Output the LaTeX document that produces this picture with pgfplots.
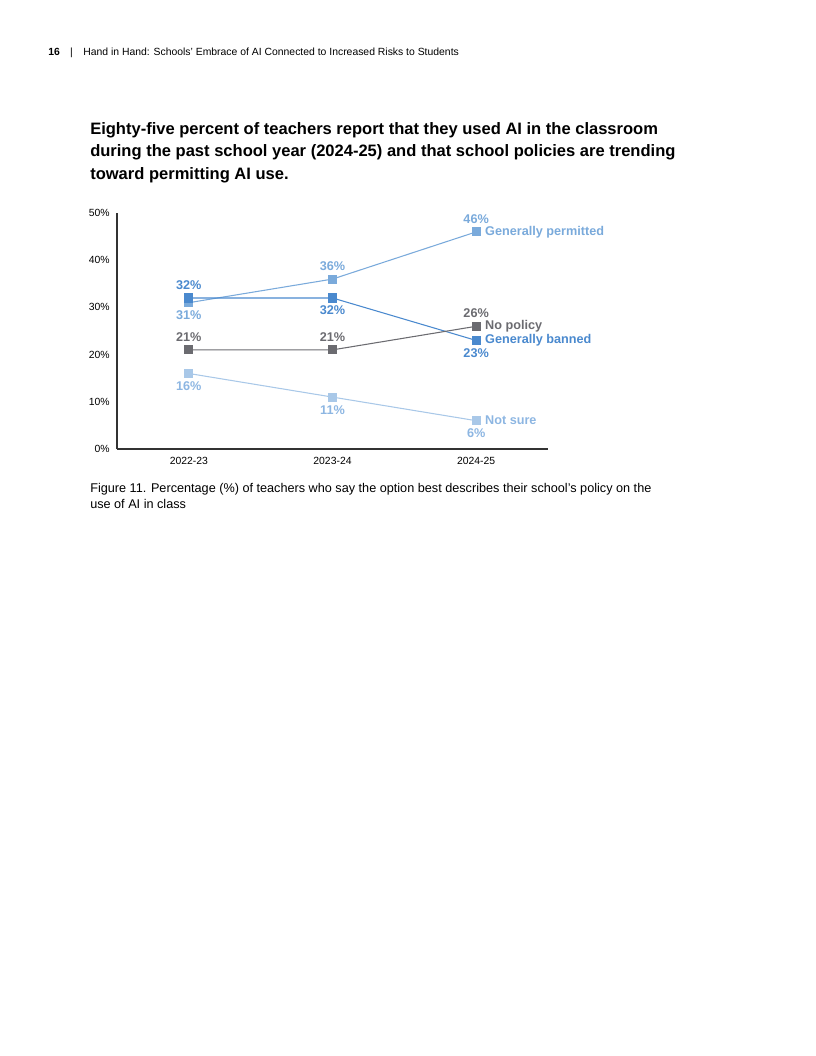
\documentclass[border=0pt]{standalone}
\usepackage{pgfplots}
\pgfplotsset{compat=1.18}
\usepackage{fontspec}
\setmainfont{Liberation Sans}

\definecolor{permitted}{HTML}{7AAADB}
\definecolor{banned}{HTML}{4A89CE}
\definecolor{nopolicy}{HTML}{6B6B70}
\definecolor{notsure}{HTML}{A9C8E8}
\definecolor{notsurelbl}{HTML}{8DB6E2}
\definecolor{axisgray}{HTML}{333333}

% x, y, label position (1 above, -1 below)
\pgfplotstableread{
x y pos
0 31 -1
1 36 1
2 46 1
}\permitted
\pgfplotstableread{
x y pos
0 32 1
1 32 -1
2 23 -1
}\banned
\pgfplotstableread{
x y pos
0 21 1
1 21 1
2 26 1
}\nopolicy
\pgfplotstableread{
x y pos
0 16 -1
1 11 -1
2 6 -1
}\notsure

\begin{document}
\begin{tikzpicture}
% page frame (816x1056 px, origin top left)
\path (0,0) rectangle (612pt,-792pt);

\node[anchor=base west, inner sep=0, font=\fontsize{7.8}{9}\selectfont] at (36pt,-42pt)
  {\textbf{16}\quad|\quad Hand in Hand: Schools’ Embrace of AI Connected to Increased Risks to Students};

\begin{scope}[every node/.style={anchor=base west, inner sep=0, font=\fontsize{12.4}{16}\selectfont\bfseries}]
\node at (67.5pt,-100.5pt) {Eighty-five percent of teachers report that they used AI in the classroom};
\node at (67.5pt,-117.4pt) {during the past school year (2024-25) and that school policies are trending};
\node at (67.5pt,-134.3pt) {toward permitting AI use.};
\end{scope}

\begin{axis}[
  at={(87.75pt,-336.75pt)}, anchor=south west,
  scale only axis, width=323.25pt, height=177pt,
  xmin=-0.5, xmax=2.5, ymin=0, ymax=50,
  axis lines=left, axis line style={-, axisgray, line width=0.9pt},
  xtick={0,1,2}, xticklabels={2022-23,2023-24,2024-25},
  ytick={0,10,...,50},
  yticklabel={\pgfmathprintnumber[assume math mode=true]{\tick}\%},
  major tick length=0pt,
  tick label style={font=\fontsize{7.8}{9}\selectfont},
  xticklabel style={yshift=-3pt},
  yticklabel style={xshift=-2pt},
  clip=false,
  every axis plot/.append style={line width=0.8pt, mark=square*, mark size=3pt},
  nodes near coords={\pgfmathprintnumber[assume math mode=true]{\pgfplotspointmeta}\%},
  point meta=y,
  visualization depends on={\thisrow{pos}\as\lpos},
  every node near coord/.append style={anchor=center, yshift=\lpos*9.5pt,
     font=\fontsize{9.5}{11}\selectfont\bfseries},
]
\addplot[permitted, mark options={fill=permitted}] table[x=x,y=y] {\permitted}
  node[pos=1, anchor=west, xshift=3pt, font=\fontsize{9.5}{11}\selectfont\bfseries] {Generally permitted};
\addplot[banned, mark options={fill=banned}] table[x=x,y=y] {\banned}
  node[pos=1, anchor=west, xshift=3pt, font=\fontsize{9.5}{11}\selectfont\bfseries] {Generally banned};
\addplot[nopolicy, mark options={fill=nopolicy}] table[x=x,y=y] {\nopolicy}
  node[pos=1, anchor=west, xshift=3pt, font=\fontsize{9.5}{11}\selectfont\bfseries] {No policy};
\addplot[notsure, mark options={fill=notsure}, every node near coord/.append style={text=notsurelbl}] table[x=x,y=y] {\notsure}
  node[pos=1, anchor=west, xshift=3pt, text=notsurelbl, font=\fontsize{9.5}{11}\selectfont\bfseries] {Not sure};
\end{axis}

\begin{scope}[every node/.style={anchor=base west, inner sep=0, font=\fontsize{9.5}{12}\selectfont}]
\node at (67.5pt,-369pt) {Figure 11. Percentage (\%) of teachers who say the option best describes their school’s policy on the};
\node at (67.5pt,-381pt) {use of AI in class};
\end{scope}
\end{tikzpicture}
\end{document}
